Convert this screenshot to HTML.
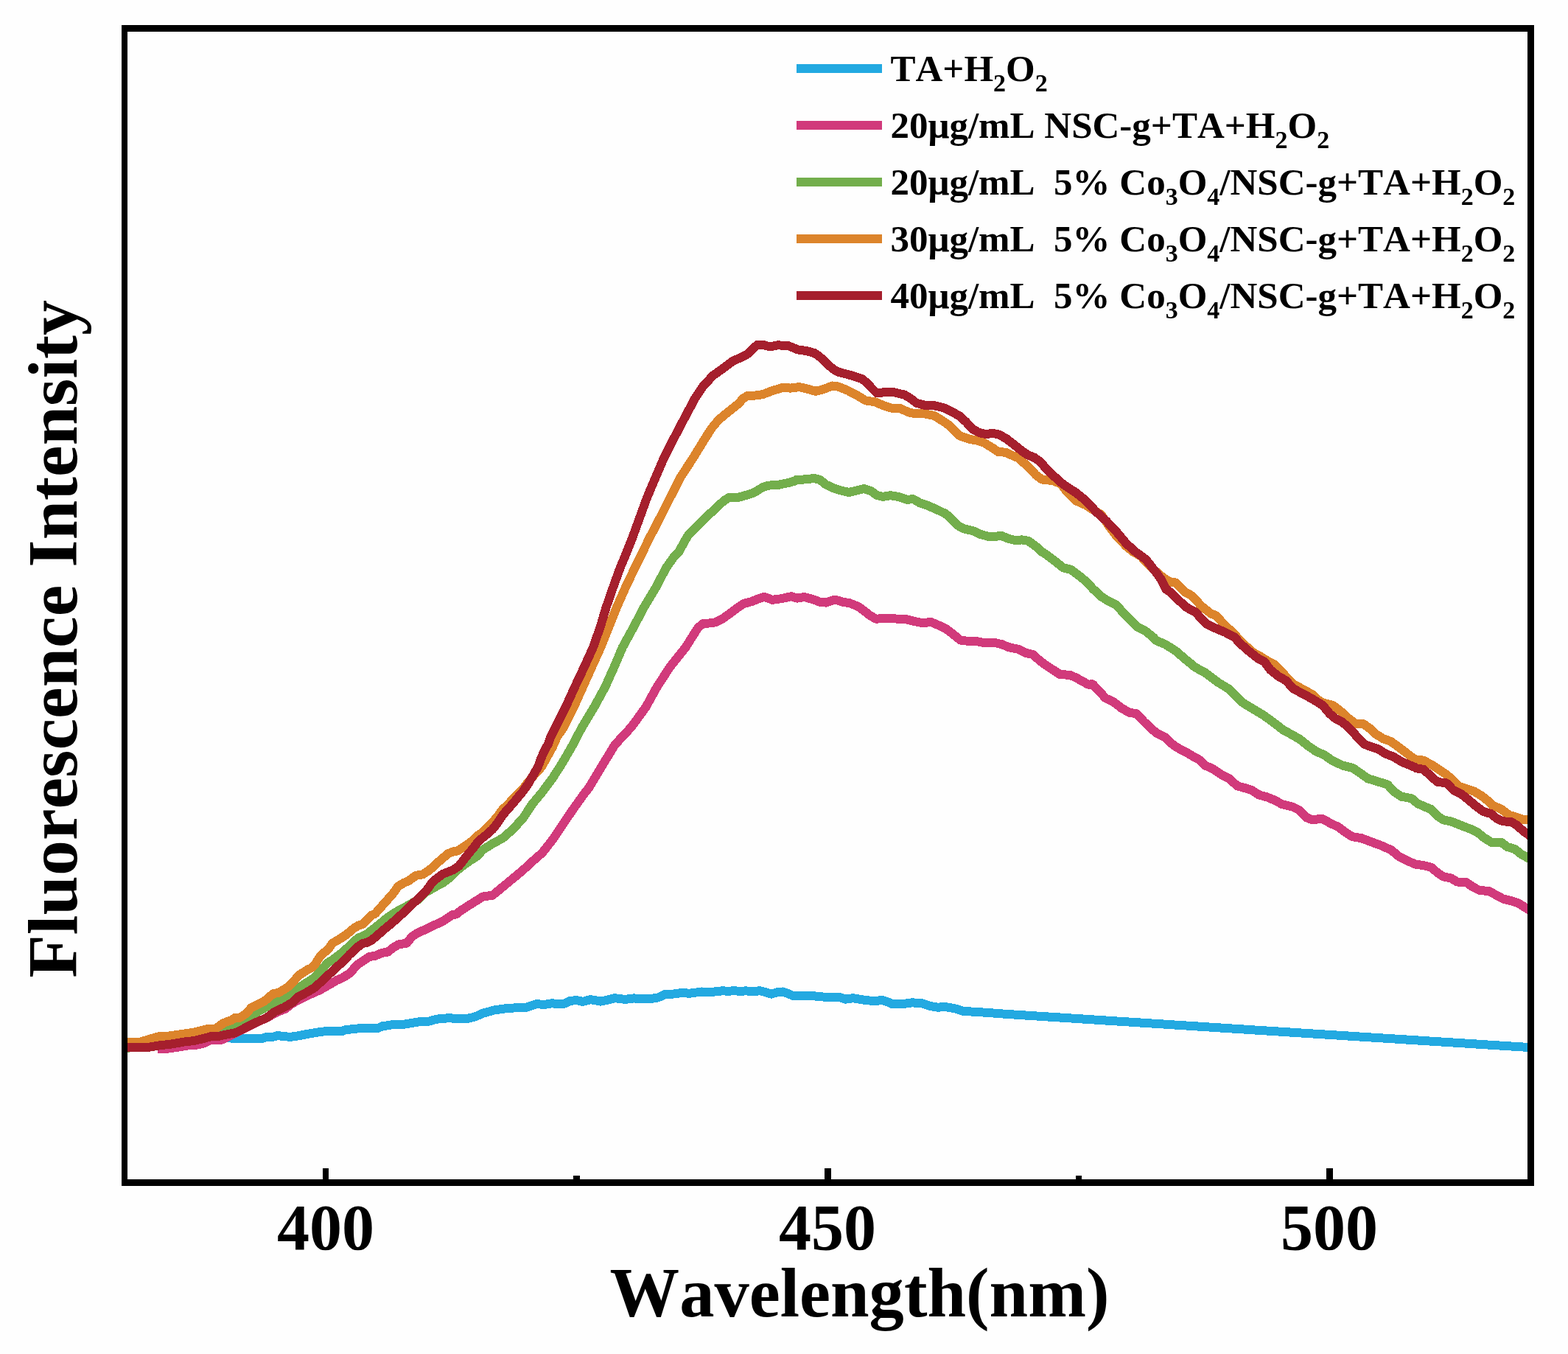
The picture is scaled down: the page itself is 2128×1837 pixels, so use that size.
<!DOCTYPE html>
<html lang="en"><head><meta charset="utf-8"><title>Fluorescence Intensity vs Wavelength</title>
<style>
html,body{margin:0;padding:0;background:#fefefe;}
body{width:2128px;height:1837px;overflow:hidden;}
svg{display:block;}
text{white-space:pre;font-kerning:none;font-variant-ligatures:none;}
</style></head><body>
<svg width="2128" height="1837" viewBox="0 0 2128 1837">
<rect x="0" y="0" width="2128" height="1837" fill="#fefefe"/>
<defs><clipPath id="pc"><rect x="173" y="43" width="1900" height="1557"/></clipPath></defs>
<g clip-path="url(#pc)" fill="none" stroke-width="12" stroke-linejoin="round" stroke-linecap="butt" shape-rendering="crispEdges">
<path d="M169.6 1418.6 L234.5 1413.9 L280.8 1410.5 L310.9 1408.2 L320.2 1409.5 L337.6 1409.3 L356.1 1408.7 L361.9 1407.0 L372.3 1406.5 L377.5 1404.8 L383.9 1406.4 L395.5 1406.6 L405.0 1405.3 L416.6 1403.0 L434.0 1400.1 L444.4 1398.9 L451.3 1399.2 L462.9 1399.5 L468.7 1397.2 L486.1 1395.4 L512.7 1395.1 L518.5 1392.4 L532.4 1390.2 L544.0 1390.4 L555.6 1388.5 L569.5 1386.1 L578.7 1386.5 L592.6 1382.7 L610.0 1381.1 L619.3 1382.1 L634.3 1381.9 L645.0 1379.4 L655.4 1374.7 L671.1 1370.4 L688.4 1367.9 L714.5 1366.7 L728.4 1362.2 L738.8 1362.9 L749.2 1361.2 L759.7 1362.5 L766.6 1361.5 L773.6 1358.0 L782.3 1357.0 L790.9 1358.9 L801.4 1356.1 L815.3 1358.6 L824.0 1356.8 L834.4 1354.2 L848.3 1355.9 L860.4 1354.4 L870.9 1355.3 L884.8 1354.9 L893.5 1353.3 L902.1 1349.2 L914.3 1348.5 L923.0 1347.3 L936.9 1347.6 L952.5 1345.5 L966.4 1345.9 L980.3 1344.3 L989.0 1344.8 L996.0 1344.1 L1005.0 1345.0 L1011.9 1344.3 L1022.4 1345.3 L1031.1 1344.1 L1038.0 1345.9 L1046.7 1348.6 L1055.4 1346.2 L1062.3 1345.5 L1069.3 1348.0 L1076.2 1350.9 L1091.9 1351.4 L1102.3 1351.1 L1116.2 1352.5 L1130.1 1352.8 L1138.8 1352.6 L1147.5 1355.6 L1157.9 1354.2 L1170.1 1356.3 L1184.0 1358.0 L1197.9 1357.2 L1204.8 1359.4 L1211.8 1362.5 L1223.9 1362.4 L1237.8 1360.3 L1251.7 1361.3 L1262.1 1365.0 L1272.6 1366.7 L1283.0 1366.0 L1296.9 1368.6 L1307.3 1371.9 L1326.4 1373.0 L1343.8 1374.2 L1365.0 1375.8 L1725.0 1398.9 L2073.0 1420.9 L2085.0 1421.7" stroke="#23A9E1"/>
<path d="M214.2 1422.6 L227.5 1422.6 L239.1 1421.1 L256.5 1418.2 L266.9 1417.7 L277.4 1415.3 L285.5 1411.1 L301.7 1410.5 L314.4 1404.1 L327.2 1397.7 L338.7 1391.9 L350.3 1386.1 L361.9 1380.9 L371.2 1375.7 L379.3 1371.7 L387.4 1368.8 L394.3 1363.0 L405.0 1356.6 L416.6 1350.9 L425.8 1346.9 L435.1 1342.7 L445.5 1336.7 L457.1 1329.9 L465.2 1326.5 L475.7 1319.7 L483.8 1309.8 L491.9 1304.2 L501.1 1298.1 L509.2 1296.8 L518.5 1292.8 L526.6 1291.5 L532.4 1286.5 L540.5 1281.6 L552.1 1279.6 L559.1 1270.7 L568.3 1264.9 L578.7 1260.5 L590.3 1254.8 L599.6 1250.6 L607.7 1245.5 L613.5 1241.4 L619.3 1240.3 L625.1 1235.6 L632.0 1231.1 L645.0 1223.0 L655.1 1216.5 L668.6 1214.6 L682.2 1203.4 L695.7 1192.2 L709.2 1181.1 L722.7 1168.6 L736.2 1156.8 L749.7 1139.5 L763.2 1119.6 L776.8 1099.3 L790.3 1080.4 L800.0 1067.6 L834.1 1010.9 L857.0 986.2 L876.6 959.2 L891.5 932.2 L909.1 905.1 L930.7 878.1 L939.5 863.9 L947.6 851.4 L954.3 845.9 L963.8 845.4 L971.9 844.1 L981.4 838.9 L990.8 832.2 L1001.6 824.1 L1009.7 818.9 L1020.5 815.9 L1028.6 812.6 L1036.8 810.0 L1040.0 810.8 L1048.1 813.8 L1060.3 812.2 L1073.8 809.2 L1081.9 811.6 L1091.4 810.0 L1103.5 813.2 L1113.0 816.8 L1121.1 817.6 L1133.2 813.5 L1144.1 816.8 L1153.5 818.4 L1164.3 822.7 L1172.4 828.4 L1180.5 834.9 L1188.6 839.6 L1202.2 839.2 L1215.7 839.5 L1229.2 840.0 L1240.0 842.7 L1252.2 845.4 L1263.0 843.8 L1272.4 847.7 L1283.2 852.7 L1292.7 859.9 L1303.5 868.6 L1310.3 869.5 L1323.8 869.7 L1334.6 871.9 L1350.8 872.2 L1360.3 874.3 L1368.4 878.0 L1381.9 880.7 L1391.4 885.7 L1402.2 888.1 L1411.6 896.9 L1421.1 903.6 L1430.5 909.7 L1438.6 915.1 L1452.2 915.8 L1460.3 919.5 L1469.7 924.6 L1476.5 928.6 L1483.0 928.4 L1492.4 938.5 L1500.5 947.3 L1511.4 952.4 L1522.2 960.8 L1533.0 966.9 L1542.4 968.2 L1551.9 978.4 L1561.4 987.8 L1570.8 995.3 L1581.6 1000.7 L1592.4 1010.8 L1600.5 1015.9 L1611.4 1021.6 L1619.5 1026.5 L1627.6 1030.8 L1635.7 1038.5 L1646.5 1043.5 L1657.3 1050.7 L1668.1 1056.1 L1678.9 1066.2 L1689.7 1069.2 L1699.2 1072.3 L1708.6 1078.4 L1719.5 1081.4 L1730.3 1085.8 L1740.0 1091.2 L1754.1 1094.6 L1763.5 1099.3 L1773.0 1109.2 L1781.1 1112.2 L1794.6 1110.8 L1805.4 1116.9 L1816.2 1121.9 L1825.7 1129.1 L1835.1 1135.1 L1848.0 1137.3 L1861.5 1142.4 L1875.0 1147.4 L1888.5 1153.5 L1898.0 1161.6 L1908.8 1167.3 L1921.0 1172.7 L1931.8 1174.1 L1942.6 1176.8 L1950.7 1183.9 L1958.8 1189.3 L1969.6 1191.6 L1977.7 1196.5 L1989.9 1197.0 L1998.0 1202.8 L2007.5 1207.8 L2021.0 1209.2 L2030.4 1214.3 L2039.9 1219.5 L2050.7 1222.2 L2061.5 1225.8 L2073.0 1233.2 L2080.4 1238.0" stroke="#D13A7B"/>
<path d="M169.6 1421.8 L199.7 1420.4 L217.1 1418.1 L234.5 1416.0 L248.4 1413.5 L263.5 1411.7 L276.2 1408.7 L285.5 1406.1 L292.4 1404.7 L309.8 1393.7 L327.2 1385.0 L344.5 1375.7 L360.8 1366.5 L373.5 1361.2 L385.1 1354.9 L396.7 1346.8 L405.0 1340.4 L416.6 1333.0 L428.2 1325.4 L439.7 1311.9 L445.5 1305.8 L451.3 1302.4 L462.9 1293.6 L474.5 1283.5 L480.3 1277.2 L486.1 1272.8 L497.7 1267.4 L509.2 1258.7 L516.2 1252.9 L526.6 1244.4 L535.9 1238.2 L541.7 1235.0 L549.8 1230.9 L567.2 1220.6 L573.0 1215.5 L578.7 1209.7 L584.5 1206.9 L596.1 1200.0 L601.1 1197.6 L611.9 1189.5 L621.4 1180.0 L628.1 1174.6 L637.6 1167.8 L648.4 1161.1 L655.1 1153.0 L668.6 1144.6 L682.2 1137.2 L695.7 1125.4 L709.2 1110.8 L722.7 1090.5 L736.2 1074.3 L749.7 1056.1 L763.2 1035.1 L776.8 1011.5 L790.1 986.2 L806.4 959.2 L821.2 932.2 L833.4 905.1 L844.9 878.1 L859.7 851.1 L873.9 824.1 L890.1 797.0 L904.3 770.0 L914.2 756.2 L921.6 748.1 L933.1 727.4 L948.6 711.6 L962.2 698.1 L975.7 685.7 L982.4 679.2 L989.2 675.1 L995.9 674.5 L1002.7 674.7 L1016.2 670.8 L1023.0 668.6 L1029.7 664.3 L1036.5 660.5 L1043.2 658.6 L1056.8 657.8 L1070.3 654.9 L1080.0 652.2 L1080.5 651.1 L1094.1 650.3 L1104.9 648.9 L1113.0 651.1 L1121.1 657.6 L1131.9 662.6 L1142.7 665.9 L1152.2 668.0 L1161.6 665.7 L1172.4 663.0 L1181.9 665.9 L1190.0 672.0 L1198.1 673.8 L1208.9 672.2 L1219.7 674.1 L1230.5 677.6 L1240.0 677.4 L1248.1 682.2 L1258.9 685.9 L1269.7 690.5 L1283.2 697.0 L1290.0 702.7 L1299.5 712.6 L1307.6 717.3 L1320.0 720.0 L1330.5 724.9 L1341.4 727.8 L1350.8 727.8 L1358.9 726.8 L1368.4 730.7 L1377.8 733.0 L1387.3 732.4 L1395.4 733.8 L1404.9 740.5 L1414.3 748.9 L1420.0 752.4 L1433.5 762.6 L1443.0 770.3 L1453.8 773.0 L1463.2 780.1 L1474.1 788.9 L1483.5 799.1 L1494.3 809.2 L1503.8 815.3 L1514.6 820.7 L1524.1 830.8 L1534.9 842.3 L1544.3 851.1 L1555.1 856.5 L1565.9 865.3 L1568.1 868.6 L1581.6 874.3 L1595.1 882.7 L1608.6 894.3 L1622.2 905.4 L1635.7 912.8 L1640.0 915.9 L1653.5 926.1 L1667.0 934.2 L1677.8 945.0 L1687.3 953.8 L1700.8 961.9 L1714.3 970.0 L1727.8 979.7 L1741.4 990.3 L1754.9 997.7 L1764.3 1003.1 L1775.1 1011.9 L1785.9 1019.3 L1796.8 1024.1 L1808.9 1032.4 L1822.4 1038.6 L1835.9 1041.9 L1845.4 1048.4 L1856.2 1056.2 L1869.7 1060.3 L1883.2 1064.6 L1892.6 1074.5 L1902.1 1080.8 L1915.6 1083.2 L1923.7 1090.0 L1931.8 1093.8 L1942.6 1098.1 L1950.7 1106.9 L1958.8 1112.3 L1969.6 1114.6 L1983.1 1120.0 L1996.6 1125.1 L2004.8 1128.9 L2012.9 1135.7 L2023.7 1142.7 L2037.2 1142.7 L2045.3 1148.8 L2056.1 1152.2 L2064.2 1158.6 L2073.0 1163.6 L2080.4 1168.4" stroke="#73AE4C"/>
<path d="M169.6 1414.2 L189.3 1414.0 L203.2 1409.8 L216.0 1406.1 L229.9 1405.5 L246.1 1403.2 L264.6 1400.4 L280.8 1396.3 L292.4 1395.5 L304.0 1387.7 L314.4 1384.0 L319.1 1380.6 L326.0 1380.6 L333.0 1375.8 L341.1 1367.3 L350.3 1362.7 L358.4 1358.8 L365.4 1352.6 L371.2 1347.9 L378.1 1347.0 L385.1 1342.7 L392.0 1338.1 L397.8 1332.5 L405.0 1323.6 L416.6 1316.1 L422.4 1313.3 L428.2 1307.4 L434.0 1298.1 L439.7 1292.6 L445.5 1287.7 L451.3 1279.5 L457.1 1276.3 L462.9 1272.8 L468.7 1268.9 L474.5 1264.4 L480.3 1259.3 L486.1 1255.9 L491.9 1254.0 L497.7 1248.4 L503.5 1242.2 L509.2 1239.5 L515.0 1233.1 L520.8 1226.3 L526.6 1219.9 L532.4 1213.6 L540.3 1202.7 L547.0 1198.4 L555.1 1194.6 L564.6 1187.8 L574.1 1186.2 L580.8 1181.8 L587.6 1176.4 L594.3 1170.0 L601.1 1164.2 L607.8 1158.4 L614.6 1155.4 L621.4 1154.3 L628.1 1150.0 L634.9 1145.3 L641.6 1140.5 L648.4 1133.8 L655.1 1129.1 L661.9 1122.3 L668.6 1115.5 L675.4 1107.4 L682.2 1098.0 L688.9 1091.9 L695.7 1084.5 L702.4 1077.7 L709.2 1070.9 L715.9 1062.2 L722.7 1054.1 L734.9 1040.5 L742.4 1027.0 L749.9 1013.5 L755.9 1000.0 L765.3 986.2 L778.8 959.2 L790.9 932.2 L803.1 905.1 L815.3 878.1 L826.1 851.1 L836.9 824.1 L848.9 797.0 L861.8 770.0 L868.6 756.2 L881.8 729.2 L895.9 702.2 L909.5 675.1 L923.2 648.1 L940.8 621.1 L957.4 594.1 L966.2 580.5 L975.7 569.1 L989.2 558.2 L1002.7 547.4 L1008.1 540.8 L1014.9 536.8 L1025.7 536.5 L1035.1 535.1 L1048.6 530.0 L1062.2 525.9 L1073.0 526.6 L1085.1 525.1 L1095.9 527.7 L1106.8 530.8 L1116.2 528.6 L1129.7 523.5 L1137.8 524.6 L1150.0 529.5 L1163.5 536.5 L1174.3 543.2 L1180.0 544.3 L1187.0 545.1 L1200.5 550.8 L1211.4 554.1 L1222.2 554.3 L1233.0 559.3 L1241.1 561.1 L1254.6 561.4 L1268.1 564.1 L1278.9 570.8 L1288.4 577.3 L1295.1 584.6 L1301.9 590.8 L1308.6 593.5 L1316.8 596.2 L1324.9 597.2 L1335.7 600.8 L1346.5 607.3 L1354.6 613.0 L1365.4 613.8 L1373.5 617.8 L1383.0 621.9 L1389.7 628.2 L1397.8 635.7 L1405.9 644.5 L1414.1 650.5 L1422.2 651.2 L1430.3 652.6 L1440.0 656.6 L1447.0 665.9 L1460.5 679.5 L1474.1 685.5 L1483.5 691.6 L1494.3 698.0 L1503.8 711.9 L1514.6 726.5 L1528.1 740.7 L1537.6 748.4 L1548.4 754.7 L1558.5 765.7 L1565.9 772.7 L1572.7 778.8 L1582.2 786.2 L1588.9 789.6 L1595.7 790.5 L1602.4 797.0 L1609.2 803.8 L1615.9 807.4 L1622.7 813.5 L1629.5 821.4 L1636.2 826.8 L1643.0 832.2 L1649.7 835.1 L1656.5 841.9 L1663.2 849.7 L1670.0 855.1 L1676.8 861.9 L1680.5 866.3 L1691.4 877.0 L1702.2 886.4 L1710.3 890.5 L1721.1 897.2 L1729.2 901.5 L1737.3 909.2 L1745.4 918.0 L1754.9 928.0 L1764.3 933.1 L1775.1 939.0 L1781.9 942.9 L1788.6 949.5 L1795.4 953.6 L1808.9 956.9 L1818.4 964.0 L1829.2 973.9 L1840.0 982.0 L1850.8 982.3 L1858.9 988.3 L1867.0 995.9 L1877.8 1002.5 L1887.3 1005.8 L1896.8 1012.5 L1907.6 1020.8 L1920.0 1030.2 L1922.3 1030.5 L1931.8 1031.7 L1942.6 1037.4 L1953.4 1044.4 L1962.9 1050.8 L1972.3 1059.0 L1980.4 1067.0 L1989.9 1070.0 L2000.7 1073.6 L2010.2 1079.5 L2018.3 1085.6 L2026.4 1093.2 L2037.2 1097.7 L2048.0 1105.7 L2058.8 1109.2 L2066.9 1111.7 L2073.0 1112.3 L2080.4 1113.7" stroke="#DC842B"/>
<path d="M169.6 1421.1 L202.1 1420.7 L217.1 1418.3 L234.5 1416.3 L248.4 1413.7 L263.5 1412.0 L276.2 1409.0 L285.5 1406.4 L295.9 1406.1 L304.0 1404.1 L319.1 1401.4 L329.5 1396.3 L338.7 1391.4 L346.9 1387.3 L361.9 1380.9 L373.5 1372.2 L385.1 1367.0 L396.7 1360.1 L405.0 1352.3 L416.6 1346.2 L428.2 1339.2 L439.7 1328.0 L451.3 1317.6 L462.9 1306.8 L474.5 1295.0 L486.1 1284.3 L491.9 1280.2 L497.7 1278.8 L503.5 1276.2 L509.2 1271.6 L520.8 1261.4 L532.4 1251.9 L544.0 1241.5 L555.6 1230.3 L567.2 1219.7 L578.7 1208.1 L587.6 1195.9 L601.1 1185.8 L614.6 1180.4 L622.7 1175.0 L628.1 1168.2 L634.9 1159.5 L641.6 1151.4 L648.4 1142.6 L655.1 1136.5 L661.9 1131.1 L668.6 1125.0 L675.4 1116.2 L682.2 1106.1 L688.9 1098.0 L695.7 1090.5 L702.4 1082.4 L709.2 1074.3 L715.9 1064.9 L722.7 1053.4 L730.1 1040.5 L735.1 1027.0 L741.2 1013.5 L743.5 1010.9 L747.3 1000.0 L754.3 986.2 L767.8 959.2 L780.0 932.2 L792.8 905.1 L805.0 878.1 L814.5 851.1 L822.6 824.1 L832.0 797.0 L841.8 770.0 L847.6 756.2 L858.4 729.2 L868.2 702.2 L878.1 675.1 L889.5 648.1 L901.1 621.1 L914.9 594.1 L929.1 567.0 L943.5 540.0 L954.1 524.3 L967.6 509.5 L981.1 500.0 L994.6 489.9 L1008.1 483.8 L1014.9 480.0 L1021.6 473.0 L1028.4 467.6 L1035.1 467.6 L1043.2 470.0 L1048.6 469.6 L1055.4 468.4 L1068.9 468.8 L1075.7 471.4 L1082.4 474.3 L1095.9 476.4 L1105.4 479.1 L1112.2 483.8 L1123.0 493.9 L1129.7 500.0 L1136.5 504.3 L1143.2 506.2 L1156.8 509.7 L1170.3 514.2 L1175.7 518.9 L1180.0 523.2 L1181.6 525.1 L1189.7 533.2 L1200.5 532.2 L1214.1 532.4 L1227.6 535.7 L1235.7 540.4 L1243.8 546.8 L1254.6 549.7 L1268.1 550.3 L1281.6 553.5 L1295.1 560.3 L1303.2 565.1 L1311.4 572.8 L1319.5 581.9 L1328.9 587.0 L1338.4 589.2 L1346.5 587.7 L1355.9 589.7 L1365.4 594.9 L1376.2 603.2 L1387.0 612.0 L1395.1 617.4 L1403.2 620.5 L1411.4 626.2 L1419.5 635.4 L1427.6 643.8 L1435.7 650.5 L1440.0 654.9 L1447.0 659.9 L1460.5 668.6 L1474.1 679.7 L1487.6 694.3 L1501.1 706.5 L1514.6 720.7 L1528.1 736.9 L1534.9 743.2 L1541.6 749.1 L1555.1 758.9 L1568.6 776.1 L1575.4 785.5 L1582.2 799.1 L1588.9 803.8 L1595.7 810.5 L1609.2 823.4 L1622.7 830.8 L1636.2 845.7 L1649.7 852.4 L1663.2 858.1 L1676.8 865.3 L1680.5 870.7 L1694.1 882.8 L1707.6 893.6 L1715.7 897.3 L1723.8 908.5 L1734.6 917.3 L1745.4 923.4 L1754.9 934.2 L1764.3 939.2 L1775.1 945.0 L1785.9 951.1 L1795.4 957.2 L1804.9 968.6 L1813.0 975.4 L1822.4 980.1 L1831.9 988.9 L1842.7 1000.4 L1850.8 1009.2 L1858.9 1012.6 L1869.7 1015.9 L1880.5 1022.7 L1891.4 1026.8 L1902.2 1033.5 L1910.3 1036.9 L1920.0 1040.9 L1922.3 1042.4 L1931.8 1043.8 L1942.6 1053.5 L1950.7 1060.9 L1962.9 1062.3 L1972.3 1071.8 L1983.1 1077.2 L1993.9 1085.9 L2003.4 1093.8 L2012.9 1100.8 L2023.7 1104.2 L2031.8 1110.9 L2039.9 1114.3 L2050.7 1115.0 L2058.8 1119.7 L2066.9 1127.2 L2073.0 1131.6 L2080.4 1137.3" stroke="#A51F2D"/>
</g>
<g fill="#000" shape-rendering="crispEdges">
<rect x="165" y="34" width="1917" height="9"/>
<rect x="165" y="1600" width="1917" height="9"/>
<rect x="165" y="34" width="8" height="1575"/>
<rect x="2073" y="34" width="9" height="1575"/>
<rect x="438" y="1585" width="8" height="16"/>
<rect x="1119" y="1585" width="9" height="16"/>
<rect x="1800" y="1585" width="9" height="16"/>
<rect x="778" y="1595" width="9" height="6"/>
<rect x="1460" y="1595" width="8" height="6"/>
</g>
<text x="442" y="1695" font-size="88" text-anchor="middle" font-family="'Liberation Serif', serif" font-weight="bold" fill="#000">400</text>
<text x="1123" y="1695" font-size="88" text-anchor="middle" font-family="'Liberation Serif', serif" font-weight="bold" fill="#000">450</text>
<text x="1804" y="1695" font-size="88" text-anchor="middle" font-family="'Liberation Serif', serif" font-weight="bold" fill="#000">500</text>
<text x="1166.5" y="1786" font-size="94.6" text-anchor="middle" font-family="'Liberation Serif', serif" font-weight="bold" fill="#000">Wavelength(nm)</text>
<text transform="translate(103.8,866.9) rotate(-90)" font-size="96" text-anchor="middle" font-family="'Liberation Serif', serif" font-weight="bold" fill="#000">Fluorescence Intensity</text>
<rect x="1081" y="87.0" width="116" height="12" fill="#23A9E1"/>
<text x="1208.5" y="110.3" font-size="51" xml:space="preserve" font-family="'Liberation Serif', serif" font-weight="bold" fill="#000">TA+H<tspan dy="14" font-size="34">2</tspan><tspan dy="-14">O</tspan><tspan dy="14" font-size="34">2</tspan></text>
<rect x="1081" y="164.0" width="116" height="12" fill="#D13A7B"/>
<text x="1208.5" y="187.3" font-size="51" xml:space="preserve" font-family="'Liberation Serif', serif" font-weight="bold" fill="#000">20μg/mL NSC-g+TA+H<tspan dy="14" font-size="34">2</tspan><tspan dy="-14">O</tspan><tspan dy="14" font-size="34">2</tspan></text>
<rect x="1081" y="241.0" width="116" height="12" fill="#73AE4C"/>
<text x="1208.5" y="264.3" font-size="51" xml:space="preserve" font-family="'Liberation Serif', serif" font-weight="bold" fill="#000">20μg/mL  5% Co<tspan dy="14" font-size="34">3</tspan><tspan dy="-14">O</tspan><tspan dy="14" font-size="34">4</tspan><tspan dy="-14">/NSC-g+TA+H</tspan><tspan dy="14" font-size="34">2</tspan><tspan dy="-14">O</tspan><tspan dy="14" font-size="34">2</tspan></text>
<rect x="1081" y="318.0" width="116" height="12" fill="#DC842B"/>
<text x="1208.5" y="341.3" font-size="51" xml:space="preserve" font-family="'Liberation Serif', serif" font-weight="bold" fill="#000">30μg/mL  5% Co<tspan dy="14" font-size="34">3</tspan><tspan dy="-14">O</tspan><tspan dy="14" font-size="34">4</tspan><tspan dy="-14">/NSC-g+TA+H</tspan><tspan dy="14" font-size="34">2</tspan><tspan dy="-14">O</tspan><tspan dy="14" font-size="34">2</tspan></text>
<rect x="1081" y="395.0" width="116" height="12" fill="#A51F2D"/>
<text x="1208.5" y="418.3" font-size="51" xml:space="preserve" font-family="'Liberation Serif', serif" font-weight="bold" fill="#000">40μg/mL  5% Co<tspan dy="14" font-size="34">3</tspan><tspan dy="-14">O</tspan><tspan dy="14" font-size="34">4</tspan><tspan dy="-14">/NSC-g+TA+H</tspan><tspan dy="14" font-size="34">2</tspan><tspan dy="-14">O</tspan><tspan dy="14" font-size="34">2</tspan></text>
</svg>
</body></html>
